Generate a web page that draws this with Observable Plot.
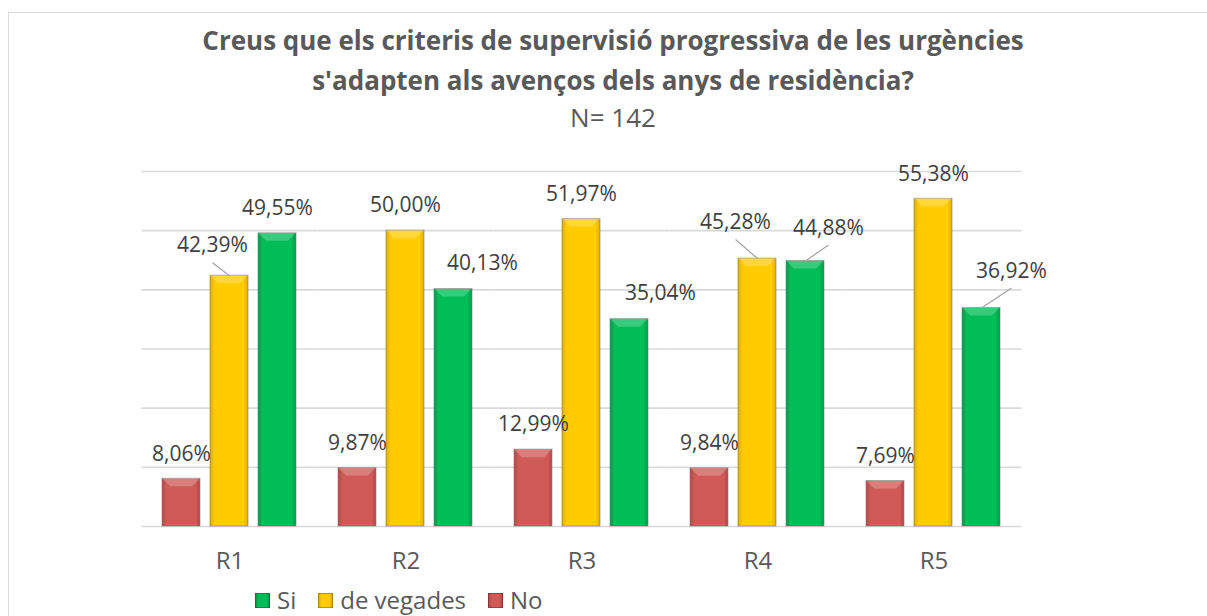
<!DOCTYPE html>
<html><head><meta charset="utf-8">
<script src="https://cdn.jsdelivr.net/npm/d3@7"></script>
<script src="https://cdn.jsdelivr.net/npm/@observablehq/plot@0.6"></script>
<style>
html,body{margin:0;padding:0;background:#fff;font-family:"Open Sans",sans-serif;overflow:hidden}
#frame{position:absolute;left:8px;top:12px;width:1240px;height:700px;border:1px solid #d9d9d9;box-sizing:border-box}
#title{position:absolute;left:0;width:1226px;top:20px;text-align:center;color:#595959;font-weight:700;font-size:26px;line-height:40px;white-space:nowrap}
#sub{position:absolute;left:0;width:1226px;top:101px;text-align:center;color:#595959;font-size:26px;line-height:32px}
#chart{position:absolute;left:0;top:140px}
#legend{position:absolute;left:255px;top:586px;display:flex;align-items:center;color:#595959;font-size:24px;line-height:28px}
#legend .it{display:flex;align-items:center;margin-right:22px}
#legend .sw{width:15px;height:15px;margin-right:7px;box-sizing:border-box;border:1px solid rgba(0,0,0,0.25)}
</style></head>
<body>
<div id="frame"></div>
<div id="title">Creus que els criteris de supervisió progressiva de les urgències<br>s'adapten als avenços dels anys de residència?</div>
<div id="sub">N= 142</div>
<div id="chart"></div>
<div id="legend"></div>
<script>
const categories = ["R1", "R2", "R3", "R4", "R5"];
const series = ["No", "de vegades", "Si"];
const noValues = [8.06, 9.87, 12.99, 9.84, 7.69];
const deVegadesValues = [42.39, 50.00, 51.97, 45.28, 55.38];
const siValues = [49.55, 40.13, 35.04, 44.88, 36.92];
const yTicks = [0, 10, 20, 30, 40, 50, 60];
const legendOrder = ["Si", "de vegades", "No"];
const seriesColors = {"No": ["#b84543", "#d05a57"], "de vegades": ["#e3a900", "#ffcc00"], "Si": ["#009a44", "#00bd57"]};

// layout only: label nudges [dx, dy, leader line]
const nudges = {
  "R1|de vegades": [-17, -30, true],
  "R2|Si": [29, -26, false],
  "R3|Si": [31, -26, false],
  "R4|de vegades": [-22, -36, true],
  "R4|Si": [23, -33, true],
  "R5|Si": [30, -37, true]
};

const W = 1207, ML = 140, MR = 184;
const fxPadInner = 0.22, fxPadOuter = 0.11;
const fxStep = (W - ML - MR) / (categories.length - fxPadInner + 2 * fxPadOuter);
const gridInset = -fxStep * fxPadOuter;

const valuesBySeries = {"No": noValues, "de vegades": deVegadesValues, "Si": siValues};
const data = [];
categories.forEach((c, i) => series.forEach(s => data.push({cat: c, series: s, value: valuesBySeries[s][i]})));
const fmt = v => v.toFixed(2).replace(".", ",") + "%";
const gradId = s => "g_" + series.indexOf(s);
const key = d => d.cat + "|" + d.series;
const ns = "http://www.w3.org/2000/svg";

const labelMarks = [];
labelMarks.push(Plot.text(data.filter(d => !nudges[key(d)]), {
  fx: "cat", x: "series", y: "value", text: d => fmt(d.value), dy: -25,
  fill: "#404040", fontSize: 21, lineAnchor: "middle"
}));
for (const [k, [dx, dy, leader]] of Object.entries(nudges)) {
  labelMarks.push(Plot.text(data.filter(d => key(d) === k), {
    fx: "cat", x: "series", y: "value", text: d => fmt(d.value), dx, dy,
    fill: "#404040", fontSize: 21, lineAnchor: "middle",
    render: leader ? (index, scales, values, dims, ctx, next) => {
      const g = next(index, scales, values, dims, ctx);
      for (const i of index) {
        const X = values.x[i], Y = values.y[i];
        const ln = document.createElementNS(ns, "line");
        ln.setAttribute("x1", X - dx); ln.setAttribute("y1", Y - dy);
        ln.setAttribute("x2", X); ln.setAttribute("y2", Y + 17);
        ln.setAttribute("stroke", "#a6a6a6"); ln.setAttribute("stroke-width", 1.3);
        g.appendChild(ln);
      }
      return g;
    } : undefined
  }));
}

// bevel highlight on bar tops (style only)
function bevel(index, scales, values, dims, ctx, next) {
  const g = next(index, scales, values, dims, ctx);
  const rects = Array.from(g.querySelectorAll("rect"));
  for (const r of rects) {
    const x = +r.getAttribute("x"), y = +r.getAttribute("y"), w = +r.getAttribute("width"), h = +r.getAttribute("height");
    const b = Math.min(8, h / 2);
    const p = document.createElementNS(ns, "polygon");
    p.setAttribute("points", `${x},${y} ${x + w},${y} ${x + w - b},${y + b} ${x + b},${y + b}`);
    p.setAttribute("fill", "#ffffff"); p.setAttribute("fill-opacity", "0.22"); p.setAttribute("stroke", "none");
    g.appendChild(p);
  }
  return g;
}

const chart = Plot.plot({
  width: W, height: 440,
  marginLeft: ML, marginRight: MR, marginTop: 31, marginBottom: 54,
  style: {fontFamily: "Open Sans", fontSize: "20px", color: "#404040", background: "transparent", overflow: "visible"},
  fx: {domain: categories, paddingInner: fxPadInner, paddingOuter: fxPadOuter, label: null},
  x: {domain: series, paddingInner: 0.2, paddingOuter: 0, axis: null},
  y: {domain: [0, 60], axis: null},
  marks: [
    Plot.ruleY(yTicks, {stroke: "#d9d9d9", strokeWidth: 1.6, insetLeft: gridInset, insetRight: gridInset}),
    Plot.barY(data, {fx: "cat", x: "series", y: "value", fill: d => `url(#${gradId(d.series)})`, stroke: "#7f7f7f", strokeOpacity: 0.6, strokeWidth: 1, render: bevel}),
    ...labelMarks,
    Plot.axisFx({anchor: "bottom", tickSize: 0, tickPadding: 25, fontSize: 24, fill: "#595959", label: null})
  ]
});

// gradients (style only)
const defs = document.createElementNS(ns, "defs");
series.forEach(s => {
  const [edge, mid] = seriesColors[s];
  const lg = document.createElementNS(ns, "linearGradient");
  lg.setAttribute("id", gradId(s));
  lg.setAttribute("x1", "0"); lg.setAttribute("x2", "1"); lg.setAttribute("y1", "0"); lg.setAttribute("y2", "0");
  [[0, edge], [0.12, mid], [0.88, mid], [1, edge]].forEach(([o, c]) => {
    const st = document.createElementNS(ns, "stop");
    st.setAttribute("offset", o); st.setAttribute("stop-color", c);
    lg.appendChild(st);
  });
  defs.appendChild(lg);
});
chart.insertBefore(defs, chart.firstChild);
document.getElementById("chart").appendChild(chart);

const legend = document.getElementById("legend");
legendOrder.forEach(s => {
  const it = document.createElement("div"); it.className = "it";
  const sw = document.createElement("div"); sw.className = "sw";
  sw.style.background = `linear-gradient(to right, ${seriesColors[s][0]}, ${seriesColors[s][1]} 20%, ${seriesColors[s][1]} 80%, ${seriesColors[s][0]})`;
  const tx = document.createElement("span"); tx.textContent = s;
  it.appendChild(sw); it.appendChild(tx); legend.appendChild(it);
});
</script>
</body></html>
